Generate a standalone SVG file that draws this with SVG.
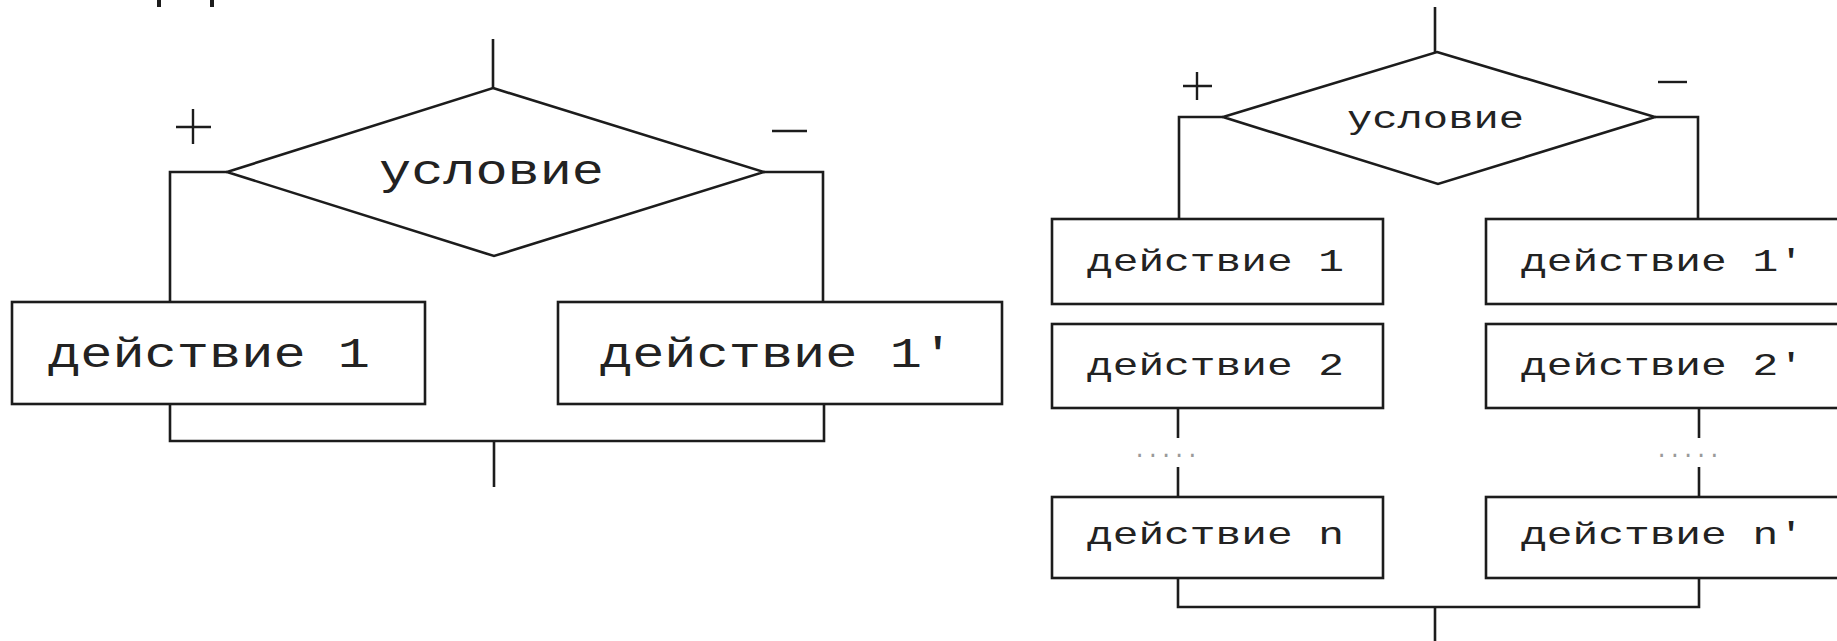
<svg xmlns="http://www.w3.org/2000/svg" width="1837" height="641" viewBox="0 0 1837 641">
  <style>
    .shape { fill: #ffffff; stroke: #1c1c1c; stroke-width: 2.6; }
    .wire { fill: none; stroke: #1c1c1c; stroke-width: 2.6; stroke-linejoin: miter; }
    .sign { fill: none; stroke: #1c1c1c; stroke-width: 2.4; }
    .lbl { font-family: "Liberation Mono", "DejaVu Sans Mono", monospace; fill: #222222; }
    .big { font-size: 42px; }
    .small { font-size: 32px; }
    .cond { font-size: 31px; }
    .dots { font-family: "Liberation Mono", monospace; font-size: 22px; fill: #9a9a9a; }
  </style>

  <rect width="1837" height="641" fill="#ffffff"/>

  <!-- stems of a heading clipped by the top edge -->
  <g id="heading-fragment" fill="#1c1c1c">
    <rect x="157" y="0" width="4" height="7"/>
    <rect x="210" y="0" width="4" height="7"/>
  </g>

  <!-- ===== left: if/else with one action per branch ===== -->
  <g id="left-connectors">
    <path class="wire" d="M493,39 V88"/>
    <path class="wire" d="M227,172 H170 V302"/>
    <path class="wire" d="M764,172 H823 V302"/>
    <path class="wire" d="M170,404 V441 H824 V404"/>
    <path class="wire" d="M494,441 V487"/>
  </g>

  <g id="left-condition">
    <polygon class="shape" points="493,88 764,172 494,256 227,172"/>
    <text class="lbl big" x="379" y="184" textLength="225" lengthAdjust="spacingAndGlyphs">условие</text>
  </g>
  <g id="left-plus">
    <path class="sign" d="M176,127 H211 M193,109 V144"/>
  </g>
  <g id="left-minus">
    <path class="sign" d="M772,131 H807"/>
  </g>

  <g id="left-action-1">
    <rect class="shape" x="12" y="302" width="413" height="102"/>
    <text class="lbl big" x="48" y="367" textLength="322" lengthAdjust="spacingAndGlyphs">действие 1</text>
  </g>
  <g id="left-action-1p">
    <rect class="shape" x="558" y="302" width="444" height="102"/>
    <text class="lbl big" x="600" y="367" textLength="354" lengthAdjust="spacingAndGlyphs">действие 1'</text>
  </g>

  <!-- ===== right: if/else with a sequence per branch ===== -->
  <g id="right-connectors">
    <path class="wire" d="M1435,7 V52"/>
    <path class="wire" d="M1223,117 H1179 V219"/>
    <path class="wire" d="M1655,117 H1698 V219"/>
    <path class="wire" d="M1178,408 V438 M1178,467 V497"/>
    <path class="wire" d="M1699,408 V438 M1699,467 V497"/>
    <path class="wire" d="M1178,578 V607 H1699 V578"/>
    <path class="wire" d="M1435,607 V641"/>
  </g>

  <g id="right-condition">
    <polygon class="shape" points="1437,52 1655,117 1438,184 1223,117"/>
    <text class="lbl cond" x="1347" y="128" textLength="177" lengthAdjust="spacingAndGlyphs">условие</text>
  </g>
  <g id="right-plus">
    <path class="sign" d="M1183,86 H1212 M1197,72 V100"/>
  </g>
  <g id="right-minus">
    <path class="sign" d="M1658,82 H1687"/>
  </g>

  <g id="right-action-1">
    <rect class="shape" x="1052" y="219" width="331" height="85"/>
    <text class="lbl small" x="1087" y="271" textLength="257" lengthAdjust="spacingAndGlyphs">действие 1</text>
  </g>
  <g id="right-action-2">
    <rect class="shape" x="1052" y="324" width="331" height="84"/>
    <text class="lbl small" x="1087" y="375" textLength="257" lengthAdjust="spacingAndGlyphs">действие 2</text>
  </g>
  <g id="right-ellipsis">
    <text class="dots" x="1133" y="457">.....</text>
  </g>
  <g id="right-action-n">
    <rect class="shape" x="1052" y="497" width="331" height="81"/>
    <text class="lbl small" x="1087" y="544" textLength="257" lengthAdjust="spacingAndGlyphs">действие n</text>
  </g>

  <g id="right-action-1p">
    <rect class="shape" x="1486" y="219" width="400" height="85"/>
    <text class="lbl small" x="1521" y="271" textLength="283" lengthAdjust="spacingAndGlyphs">действие 1'</text>
  </g>
  <g id="right-action-2p">
    <rect class="shape" x="1486" y="324" width="400" height="84"/>
    <text class="lbl small" x="1521" y="375" textLength="283" lengthAdjust="spacingAndGlyphs">действие 2'</text>
  </g>
  <g id="right-ellipsis-p">
    <text class="dots" x="1655" y="457">.....</text>
  </g>
  <g id="right-action-np">
    <rect class="shape" x="1486" y="497" width="400" height="81"/>
    <text class="lbl small" x="1521" y="544" textLength="283" lengthAdjust="spacingAndGlyphs">действие n'</text>
  </g>
</svg>
